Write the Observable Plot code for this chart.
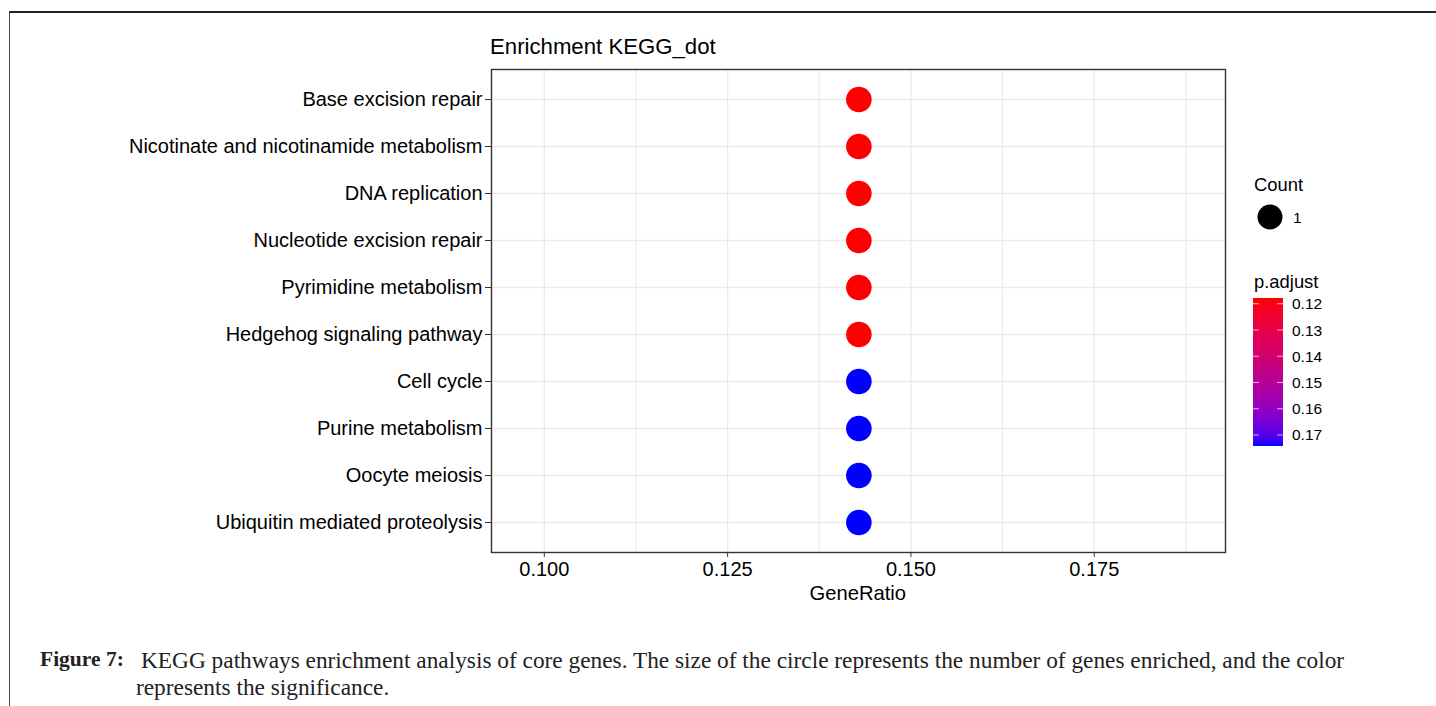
<!DOCTYPE html>
<html><head><meta charset="utf-8">
<script src="https://cdn.jsdelivr.net/npm/d3@7"></script>
<script src="https://cdn.jsdelivr.net/npm/@observablehq/plot@0.6"></script>
<style>
body{margin:0;background:#fff;}
#page{position:relative;width:1436px;height:706px;overflow:hidden;font-family:"Liberation Sans",Arial,sans-serif;color:#000;}
.abs{position:absolute;white-space:nowrap;line-height:1;}
.cap{font-family:"Liberation Serif","Times New Roman",serif;color:#222;}
</style></head><body><div id="page"></div>
<script>
// ---- data ----
const pathways = [
  "Base excision repair",
  "Nicotinate and nicotinamide metabolism",
  "DNA replication",
  "Nucleotide excision repair",
  "Pyrimidine metabolism",
  "Hedgehog signaling pathway",
  "Cell cycle",
  "Purine metabolism",
  "Oocyte meiosis",
  "Ubiquitin mediated proteolysis"
];
const geneRatio = [0.1429,0.1429,0.1429,0.1429,0.1429,0.1429,0.1429,0.1429,0.1429,0.1429];
const pAdjust  = [0.1178,0.1178,0.1178,0.1178,0.1178,0.1178,0.1742,0.1742,0.1742,0.1742];
const counts   = [1,1,1,1,1,1,1,1,1,1];
const xTicks = [0.100,0.125,0.150,0.175];
const xMinor = [0.1125,0.1375,0.1625,0.1875];
const pTicks = [0.12,0.13,0.14,0.15,0.16,0.17];
const countTicks = [1];
const xDomain = [0.0928,0.1929];
const pDomain = [0.1178,0.1742];

const data = pathways.map((d,i)=>({Description:d, GeneRatio:geneRatio[i], p:pAdjust[i], Count:counts[i]}));
const page = document.getElementById("page");
const font = '"Liberation Sans",Arial,sans-serif';

// frame lines of the figure box
const box = document.createElement("div");
box.className="abs";
Object.assign(box.style,{left:"9px",top:"11px",width:"1440px",height:"720px",borderTop:"2px solid #222",borderLeft:"1.5px solid #444"});
page.appendChild(box);

const colorScale = {type:"linear", domain:pDomain, range:["red","blue"], interpolate:d3.interpolateLab};

const chart = Plot.plot({
  width:1436, height:706,
  marginLeft:491, marginRight:211, marginTop:69, marginBottom:154,
  style:{fontFamily:font, fontSize:"20px", color:"#000", background:"transparent", overflow:"visible"},
  x:{domain:xDomain},
  y:{type:"point", domain:pathways, padding:0.6},
  color:colorScale,
  r:{domain:[0,1], range:[0,12.8]},
  marks:[
    Plot.gridX(xMinor,{stroke:"#ebebeb", strokeOpacity:1, strokeWidth:1.1}),
    Plot.gridX(xTicks,{stroke:"#ebebeb", strokeOpacity:1, strokeWidth:1.3}),
    Plot.gridY(pathways,{stroke:"#ebebeb", strokeOpacity:1, strokeWidth:1.3}),
    Plot.frame({stroke:"#333", strokeWidth:1.4}),
    Plot.axisX(xTicks,{tickSize:5, tickPadding:4, tickFormat:d3.format(".3f"), label:null, stroke:"#333", fontSize:20}),
    Plot.axisY({tickSize:6, tickPadding:3, label:null, stroke:"#333", fontSize:20}),
    Plot.dot(data,{x:"GeneRatio", y:"Description", r:"Count", fill:"p"})
  ]
});
chart.style.position="absolute"; chart.style.left="0"; chart.style.top="0";
page.appendChild(chart);

function addText(txt, x, y, size, extra){
  const el=document.createElement("div");
  el.className="abs"; el.textContent=txt;
  Object.assign(el.style,{left:x+"px", top:y+"px", fontSize:size+"px"}, extra||{});
  page.appendChild(el); return el;
}
// title & axis label
addText("Enrichment KEGG_dot", 490, 36, 22.2);
const gl = addText("GeneRatio", 0, 583, 20.2);
gl.style.left = (858 - gl.offsetWidth/2) + "px";

// legend: Count
addText("Count", 1254, 176, 18.4);
const leg = d3.create("svg").attr("width",1436).attr("height",706)
  .style("position","absolute").style("left","0").style("top","0").style("pointer-events","none");
countTicks.forEach((c,i)=>{
  leg.append("circle").attr("cx",1270).attr("cy",217+i*30).attr("r",12.5*Math.sqrt(c)).attr("fill","#000");
  leg.append("text").attr("x",1293).attr("y",223+i*30).attr("font-family",font).attr("font-size",15.5).text(c);
});
// legend: p.adjust colorbar
const barTop=298, barBot=446, barL=1253, barW=30;
const py = d3.scaleLinear().domain(pDomain).range([barTop,barBot]);
const cs = d3.scaleLinear().domain(pDomain).range(["red","blue"]).interpolate(d3.interpolateLab);
const grad = leg.append("defs").append("linearGradient").attr("id","pg").attr("x1",0).attr("y1",0).attr("x2",0).attr("y2",1);
d3.range(0,1.0001,0.05).forEach(t=>{
  grad.append("stop").attr("offset",t).attr("stop-color",cs(pDomain[0]+t*(pDomain[1]-pDomain[0])));
});
leg.append("rect").attr("x",barL).attr("y",barTop).attr("width",barW).attr("height",barBot-barTop).attr("fill","url(#pg)");
pTicks.forEach(v=>{
  const y=py(v);
  leg.append("line").attr("x1",barL).attr("x2",barL+6).attr("y1",y).attr("y2",y).attr("stroke","#fff").attr("stroke-opacity",0.7);
  leg.append("line").attr("x1",barL+barW-6).attr("x2",barL+barW).attr("y1",y).attr("y2",y).attr("stroke","#fff").attr("stroke-opacity",0.7);
  leg.append("text").attr("x",1292).attr("y",y+5.5).attr("font-family",font).attr("font-size",15.5).text(v.toFixed(2));
});
page.appendChild(leg.node());
addText("p.adjust", 1254, 273, 18.4);

// caption
const capSize = 19.5;
const f7 = addText("Figure 7:", 40, 649, 21.5, {fontWeight:"bold"});
f7.classList.add("cap");
const l1 = addText("KEGG pathways enrichment analysis of core genes. The size of the circle represents the number of genes enriched, and the color", 141, 649, capSize);
l1.classList.add("cap");
const l2 = addText("represents the significance.", 136, 676, capSize);
l2.classList.add("cap");
// fit caption line width to the figure text block
const k = 1204 / l1.offsetWidth;
[l1,l2].forEach(el=>el.style.fontSize=(capSize*k)+"px");
f7.style.width = "87px"; 
</script></body></html>
